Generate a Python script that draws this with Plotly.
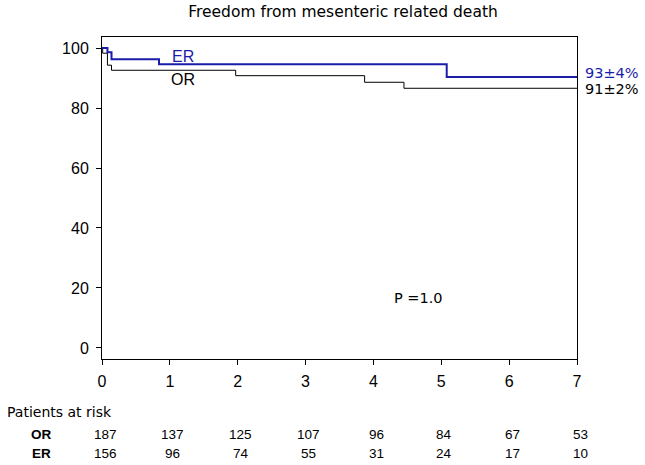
import plotly.graph_objects as go

# Kaplan-Meier style step data (years, % freedom)
er_time = [0, 0.08, 0.14, 0.84, 5.08, 7]
er_surv = [100, 98.6, 96.3, 94.6, 90.4, 90.4]
or_time = [0, 0.01, 0.08, 0.14, 1.97, 3.87, 4.45, 7]
or_surv = [100, 98.3, 94.3, 92.6, 90.8, 88.6, 86.6, 86.6]

x_ticks = [0, 1, 2, 3, 4, 5, 6, 7]
y_ticks = [0, 20, 40, 60, 80, 100]
risk_or = [187, 137, 125, 107, 96, 84, 67, 53]
risk_er = [156, 96, 74, 55, 31, 24, 17, 10]
end_labels = {"ER": "93±4%", "OR": "91±2%"}

BLUE = "#1c1cab"
VERD = "DejaVu Sans"
ARIAL = "Liberation Sans, Arial"

fig = go.Figure()
fig.add_trace(go.Scatter(x=or_time, y=or_surv, mode="lines", line_shape="hv",
                         line=dict(color="black", width=1), showlegend=False))
fig.add_trace(go.Scatter(x=er_time, y=er_surv, mode="lines", line_shape="hv",
                         line=dict(color=BLUE, width=2), showlegend=False))

PW, PH = 475.0, 322.0
def px(p):
    return (p - 102) / PW
def py(p):
    return (359 - p) / PH

ann = []
# curve labels
ann.append(dict(x=1.2, y=97.3, xref="x", yref="y", text="ER", showarrow=False,
                font=dict(family=ARIAL, size=16, color=BLUE)))
ann.append(dict(x=1.2, y=89.5, xref="x", yref="y", text="OR", showarrow=False,
                font=dict(family=ARIAL, size=16, color="black")))
# end labels
ann.append(dict(x=7, y=91.8, xref="x", yref="y", text=end_labels["ER"], showarrow=False,
                xanchor="left", yanchor="middle", xshift=7, borderpad=0,
                font=dict(family=VERD, size=14.5, color=BLUE)))
ann.append(dict(x=7, y=86.5, xref="x", yref="y", text=end_labels["OR"], showarrow=False,
                xanchor="left", yanchor="middle", xshift=7, borderpad=0,
                font=dict(family=VERD, size=14.5, color="black")))
# p value
ann.append(dict(x=4.66, y=16.7, xref="x", yref="y", text="P =1.0", showarrow=False,
                font=dict(family=VERD, size=14.5, color="black")))
# risk table
ann.append(dict(x=px(5), y=py(412), xref="paper", yref="paper", text="Patients at risk",
                showarrow=False, xanchor="left", yanchor="middle",
                font=dict(family=VERD, size=14, color="black")))
ann.append(dict(x=px(41), y=py(434), xref="paper", yref="paper", text="<b>OR</b>",
                showarrow=False, xanchor="center", yanchor="middle",
                font=dict(family=ARIAL, size=13.5, color="black")))
ann.append(dict(x=px(41), y=py(453), xref="paper", yref="paper", text="<b>ER</b>",
                showarrow=False, xanchor="center", yanchor="middle",
                font=dict(family=ARIAL, size=13.5, color="black")))
for xv, a, b in zip(x_ticks, risk_or, risk_er):
    ann.append(dict(x=xv, y=py(434), xref="x", yref="paper", text=str(a), showarrow=False,
                    xanchor="center", yanchor="middle", xshift=3,
                    font=dict(family=ARIAL, size=13.5, color="black")))
    ann.append(dict(x=xv, y=py(453), xref="x", yref="paper", text=str(b), showarrow=False,
                    xanchor="center", yanchor="middle", xshift=3,
                    font=dict(family=ARIAL, size=13.5, color="black")))

fig.update_layout(
    width=645, height=465,
    margin=dict(l=102, r=68, t=37, b=106),
    paper_bgcolor="white", plot_bgcolor="white",
    title=dict(text="Freedom from mesenteric related death", x=343/645, xanchor="center",
               y=1 - 12/465, yanchor="middle",
               font=dict(family=VERD, size=15.5, color="black")),
    annotations=ann,
    xaxis=dict(range=[0, 7], tickvals=x_ticks, showgrid=False, zeroline=False,
               showline=True, linecolor="black", linewidth=1, mirror=True,
               ticks="outside", ticklen=5, tickcolor="black", ticklabelstandoff=3,
               tickfont=dict(family=ARIAL, size=16, color="black")),
    yaxis=dict(range=[-3.7, 103.7], tickvals=y_ticks, showgrid=False, zeroline=False,
               showline=True, linecolor="black", linewidth=1, mirror=True,
               ticks="outside", ticklen=5, tickcolor="black", ticklabelstandoff=4,
               tickfont=dict(family=ARIAL, size=16, color="black")),
)

fig.write_html("out.html", config={"displayModeBar": False},
               post_script="document.body.style.margin='0';")
